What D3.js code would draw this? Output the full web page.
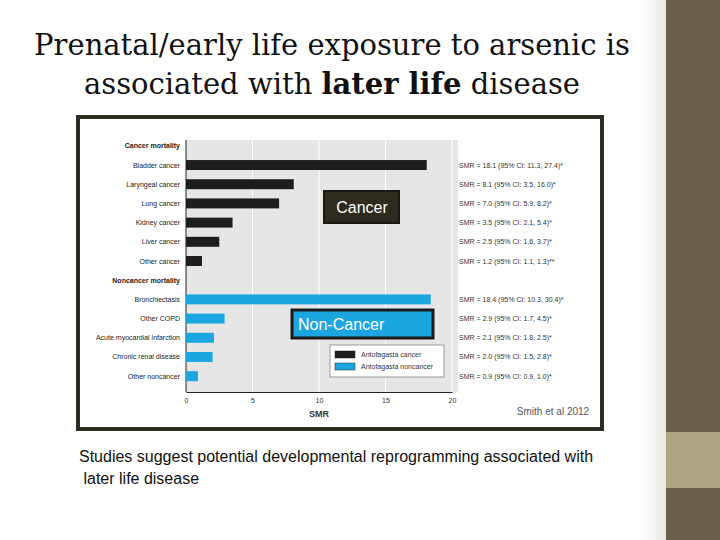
<!DOCTYPE html>
<html><head><meta charset="utf-8">
<script src="https://cdn.jsdelivr.net/npm/d3@7"></script>
<style>body{margin:0;background:#fff}</style></head>
<body><script>
var cancerNames = ["Bladder cancer","Laryngeal cancer","Lung cancer","Kidney cancer","Liver cancer","Other cancer"],
    cancerSMR = [18.1, 8.1, 7.0, 3.5, 2.5, 1.2],
    cancerCI = ["SMR = 18.1 (95% CI: 11.3, 27.4)*","SMR = 8.1 (95% CI: 3.5, 16.0)*","SMR = 7.0 (95% CI: 5.9, 8.2)*",
                "SMR = 3.5 (95% CI: 2.1, 5.4)*","SMR = 2.5 (95% CI: 1.6, 3.7)*","SMR = 1.2 (95% CI: 1.1, 1.3)**"],
    nonNames = ["Bronchiectasis","Other COPD","Acute myocardial infarction","Chronic renal disease","Other noncancer"],
    nonSMR = [18.4, 2.9, 2.1, 2.0, 0.9],
    nonCI = ["SMR = 18.4 (95% CI: 10.3, 30.4)*","SMR = 2.9 (95% CI: 1.7, 4.5)*","SMR = 2.1 (95% CI: 1.8, 2.5)*",
             "SMR = 2.0 (95% CI: 1.5, 2.8)*","SMR = 0.9 (95% CI: 0.9, 1.0)*"],
    xTicks = [0, 5, 10, 15, 20];

var rows = [{label:"Cancer mortality", head:true}]
  .concat(cancerNames.map(function(n,i){return {label:n, v:cancerSMR[i], ci:cancerCI[i], c:"#1d1d1b"}}))
  .concat([{label:"Noncancer mortality", head:true}])
  .concat(nonNames.map(function(n,i){return {label:n, v:nonSMR[i], ci:nonCI[i], c:"#1ba6e0"}}));

var svg = d3.select("body").append("svg").attr("width",720).attr("height",540);

// right sidebar
var grad = svg.append("defs").append("linearGradient").attr("id","fade");
grad.append("stop").attr("offset","0").attr("stop-color","#fff");
grad.append("stop").attr("offset","1").attr("stop-color","#e8e8e4");
svg.append("rect").attr("x",640).attr("y",0).attr("width",26).attr("height",540).attr("fill","url(#fade)");
svg.append("rect").attr("x",666).attr("y",0).attr("width",54).attr("height",540).attr("fill",'#6a604c');
svg.append("rect").attr("x",666).attr("y",432).attr("width",54).attr("height",56).attr("fill",'#aca683');

// title
var title = svg.append("text").attr("font-family","DejaVu Serif").attr("font-size",29).attr("fill","#111").attr("text-anchor","middle");
title.append("tspan").attr("x",332).attr("y",55).text("Prenatal/early life exposure to arsenic is");
var t2 = title.append("tspan").attr("x",332).attr("y",94);
t2.append("tspan").text("associated with ");
t2.append("tspan").attr("font-weight","bold").text("later life");
t2.append("tspan").text(" disease");

// figure frame
svg.append("rect").attr("x",78).attr("y",117).attr("width",524).attr("height",312)
  .attr("fill","#fff").attr("stroke","#2e2b22").attr("stroke-width",4);

var x = d3.scaleLinear().domain([0,20]).range([186,452]);
var y = d3.scaleBand().domain(d3.range(rows.length)).range([137,385]).paddingInner(0.48).paddingOuter(0.2);

svg.append("rect").attr("x",186).attr("y",140).attr("width",272).attr("height",252).attr("fill","#e6e6e6");
svg.selectAll(".grid").data(xTicks.slice(1)).enter().append("line")
  .attr("x1",function(d){return x(d)}).attr("x2",function(d){return x(d)})
  .attr("y1",140).attr("y2",392).attr("stroke","#fff").attr("stroke-width",1);
svg.append("line").attr("x1",186).attr("x2",186).attr("y1",140).attr("y2",392).attr("stroke","#222");

svg.append("g").attr("transform","translate(0,392)")
  .call(d3.axisBottom(x).tickValues(xTicks).tickSize(0).tickPadding(6))
  .call(function(g){g.select(".domain").attr("stroke","#222");
    g.selectAll("text").attr("font-family","Liberation Sans Narrow, Liberation Sans").attr("font-size",7).attr("fill","#333");});

var data = rows.map(function(r,i){r.i=i;return r});
svg.selectAll(".bar").data(data.filter(function(d){return !d.head})).enter().append("rect")
  .attr("x",x(0)).attr("y",function(d){return y(d.i)}).attr("height",y.bandwidth())
  .attr("width",function(d){return x(d.v)-x(0)}).attr("fill",function(d){return d.c});

svg.selectAll(".lab").data(data).enter().append("text")
  .attr("x",180).attr("y",function(d){return y(d.i)+y.bandwidth()/2+2.5})
  .attr("text-anchor","end").attr("font-family","Liberation Sans Narrow, Liberation Sans")
  .attr("font-size",7).attr("font-weight",function(d){return d.head?"bold":"normal"}).attr("fill","#222")
  .text(function(d){return d.label});

svg.selectAll(".ci").data(data.filter(function(d){return !d.head})).enter().append("text")
  .attr("x",459).attr("y",function(d){return y(d.i)+y.bandwidth()/2+2.5})
  .attr("font-family","Liberation Sans Narrow, Liberation Sans").attr("font-size",7).attr("fill","#333")
  .text(function(d){return d.ci});

svg.append("text").attr("x",319).attr("y",417).attr("text-anchor","middle").attr("font-family","Liberation Sans Narrow, Liberation Sans")
  .attr("font-size",9).attr("font-weight","bold").attr("fill","#333").text("SMR");

// legend
svg.append("rect").attr("x",330).attr("y",345).attr("width",114).attr("height",32).attr("fill","#fff").attr("stroke","#999");
[["#1d1d1b","Antofagasta cancer"],["#1ba6e0","Antofagasta noncancer"]].forEach(function(l,i){
  svg.append("rect").attr("x",335).attr("y",351+i*12).attr("width",20).attr("height",7).attr("fill",l[0]).attr("stroke","#222").attr("stroke-width",0.5);
  svg.append("text").attr("x",361).attr("y",357+i*12).attr("font-family","Liberation Sans Narrow, Liberation Sans").attr("font-size",7).attr("fill","#333").text(l[1]);
});

// overlay labels
svg.append("rect").attr("x",324).attr("y",191).attr("width",75).attr("height",32).attr("fill","#2e2a20").attr("stroke","#1a1812").attr("stroke-width",2);
svg.append("text").attr("x",362).attr("y",213).attr("text-anchor","middle").attr("font-family","Liberation Sans").attr("font-size",16).attr("fill","#fff").text("Cancer");
svg.append("rect").attr("x",292).attr("y",310).attr("width",141).attr("height",28).attr("fill","#1ba6e0").attr("stroke","#1a1a1a").attr("stroke-width",3);
svg.append("text").attr("x",298).attr("y",330).attr("font-family","Liberation Sans").attr("font-size",16).attr("fill","#fff").text("Non-Cancer");

svg.append("text").attr("x",553).attr("y",415).attr("text-anchor","middle").attr("font-family","Liberation Sans").attr("font-size",10).attr("fill","#555").text("Smith et al 2012");

var foot = svg.append("text").attr("font-family","Liberation Sans").attr("font-size",16).attr("fill","#111");
foot.append("tspan").attr("x",79).attr("y",462).text("Studies suggest potential developmental reprogramming associated with");
foot.append("tspan").attr("x",79).attr("y",484).text(" later life disease");
</script></body></html>
